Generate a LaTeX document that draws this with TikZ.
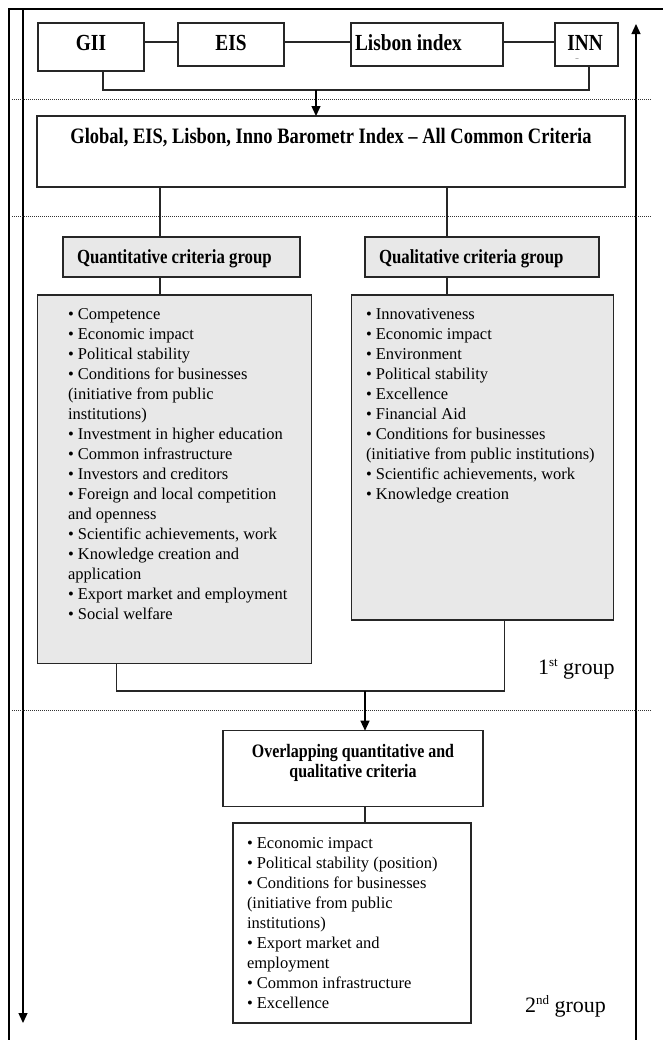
\documentclass[tikz,border=0pt]{standalone}
\usepackage{fontspec}
\setmainfont{Liberation Serif}
\newfontfamily\hdrfam[FakeStretch=0.84]{Liberation Serif}
\usetikzlibrary{arrows.meta}
\definecolor{lg}{RGB}{232,232,232}
\newcommand\listfont{\fontsize{16.5bp}{20bp}\selectfont}
\newcommand\hdrsz[1]{\hdrfam\bfseries\fontsize{#1}{20bp}\selectfont}
\newcommand\grp{\fontsize{22bp}{24bp}\selectfont}
\newcommand\sups[1]{\raisebox{8bp}{\fontsize{13bp}{13bp}\selectfont #1}}
\tikzset{
  box/.style={draw=black!85, line width=1.1bp, inner sep=0pt, outer sep=0pt},
  gbox/.style={box, fill=lg},
  conn/.style={draw=black!85, line width=1.1bp},
  arr/.style={draw=black, line width=1.3bp, -{Triangle[length=10bp,width=9bp]}},
  sepline/.style={draw=black!80, line width=0.8bp, dash pattern=on 1bp off 1bp},
  frameline/.style={draw=black, line width=1.3bp},
  txt/.style={inner sep=0pt, outer sep=0pt},
}
\begin{document}
\begin{tikzpicture}[x=1bp,y=-1bp]
\useasboundingbox (0,0) rectangle (663,1040);

% frame and side arrows
\coordinate (fbl) at (9,1040);
\coordinate (ftl) at (9,9);
\coordinate (ftr) at (663,9);
\draw[frameline] (fbl) -- (ftl) -- (ftr);
\coordinate (la1) at (23,9);
\coordinate (la2) at (23,1023);
\draw[arr] (la1) -- (la2);
\coordinate (ra1) at (636,1040);
\coordinate (ra2) at (636,24);
\draw[arr] (ra1) -- (ra2);

% dotted separators
\coordinate (d1a) at (12,99);  \coordinate (d1b) at (651,99);
\coordinate (d2a) at (12,216); \coordinate (d2b) at (651,216);
\coordinate (d3a) at (12,710); \coordinate (d3b) at (651,710);
\draw[sepline] (d1a) -- (d1b);
\draw[sepline] (d2a) -- (d2b);
\draw[sepline] (d3a) -- (d3b);

% top index boxes
\node[box, minimum width=106bp, minimum height=48bp] (gii) at (91,47) {};
\node[box, minimum width=106bp, minimum height=43bp] (eis) at (231,44.5) {};
\node[box, minimum width=152bp, minimum height=43bp] (lis) at (427,44.5) {};
\node[box, minimum width=63bp, minimum height=43bp] (inn) at (586.5,44.5) {};
\node[txt, anchor=base] (tgii) at (91,50) {\hdrsz{23bp}GII};
\node[txt, anchor=base] (teis) at (231,50) {\hdrsz{23bp}EIS};
\node[txt, anchor=base west] (tlis) at (355,50) {\hdrsz{23bp}Lisbon index};
\node[txt, anchor=base] (tinn) at (585,50) {\hdrsz{23bp}INN};
\node[txt, anchor=base] (tinn2) at (577,60) {\fontsize{6bp}{6bp}\selectfont –};

\draw[conn] (gii.east |- 0,42) -- (eis.west |- 0,42);
\draw[conn] (eis.east |- 0,42) -- (lis.west |- 0,42);
\draw[conn] (lis.east |- 0,42) -- (inn.west |- 0,42);

\coordinate (j1) at (103,90);
\coordinate (j2) at (589,90);
\coordinate (j3) at (316,90);
\draw[conn] (gii.south -| j1) -- (j1) -- (j2) -- (inn.south -| j2);

% global box
\node[box, minimum width=588bp, minimum height=71bp] (glob) at (331,151.5) {};
\node[txt, anchor=base] (tglob) at (331,143) {\hdrsz{22bp}Global, EIS, Lisbon, Inno Barometr Index – All Common Criteria};
\draw[arr] (j3) -- (glob.north -| j3);

% criteria group headers
\node[gbox, minimum width=237bp, minimum height=40bp] (qh) at (181.5,257) {};
\node[gbox, minimum width=234bp, minimum height=40bp] (lh) at (482,257) {};
\node[txt, anchor=base west] (tqh) at (77,263) {\hdrsz{20bp}Quantitative criteria group};
\node[txt, anchor=base west] (tlh) at (379,263) {\hdrsz{20bp}Qualitative criteria group};

\coordinate (c1) at (160,0);
\coordinate (c2) at (447,0);
\draw[conn] (glob.south -| c1) -- (qh.north -| c1);
\draw[conn] (glob.south -| c2) -- (lh.north -| c2);

% lists
\node[gbox, minimum width=274bp, minimum height=368.5bp] (ll) at (174.7,479.25) {};
\node[gbox, minimum width=261.6bp, minimum height=325bp] (rl) at (482.5,457.5) {};
\draw[conn] (qh.south -| c1) -- (ll.north -| c1);
\draw[conn] (lh.south -| c2) -- (rl.north -| c2);

\node[txt, anchor=base west] (tll) at (68,319) {\begin{minipage}[t]{260bp}\listfont\raggedright
• Competence\\
• Economic impact\\
• Political stability\\
• Conditions for businesses\\
(initiative from public\\
institutions)\\
• Investment in higher education\\
• Common infrastructure\\
• Investors and creditors\\
• Foreign and local competition\\
and openness\\
• Scientific achievements, work\\
• Knowledge creation and\\
application\\
• Export market and employment\\
• Social welfare
\end{minipage}};

\node[txt, anchor=base west] (trl) at (366,319) {\begin{minipage}[t]{250bp}\listfont\raggedright
• Innovativeness\\
• Economic impact\\
• Environment\\
• Political stability\\
• Excellence\\
• Financial Aid\\
• Conditions for businesses\\
(initiative from public institutions)\\
• Scientific achievements, work\\
• Knowledge creation
\end{minipage}};

\node[txt, anchor=base west] (g1) at (538,674) {\grp 1\sups{st} group};

% merge into overlapping box
\coordinate (m1) at (116.7,691);
\coordinate (m2) at (504.3,691);
\coordinate (m3) at (365,691);
\draw[conn] (ll.south -| m1) -- (m1) -- (m2) -- (rl.south -| m2);

\node[box, minimum width=260bp, minimum height=76bp] (ov) at (353,768.7) {};
\draw[arr] (m3) -- (ov.north -| m3);
\node[txt, anchor=base] (tov) at (353,757) {\parbox[t]{258bp}{\centering\hdrsz{19bp}Overlapping quantitative and\\qualitative criteria}};

\node[box, minimum width=238bp, minimum height=200bp] (bl) at (352,923) {};
\draw[conn] (ov.south -| m3) -- (bl.north -| m3);
\node[txt, anchor=base west] (tbl) at (247,848) {\begin{minipage}[t]{220bp}\listfont\raggedright
• Economic impact\\
• Political stability (position)\\
• Conditions for businesses\\
(initiative from public\\
institutions)\\
• Export market and\\
employment\\
• Common infrastructure\\
• Excellence
\end{minipage}};

\node[txt, anchor=base west] (g2) at (525,1012) {\grp 2\sups{nd} group};
\end{tikzpicture}
\end{document}
